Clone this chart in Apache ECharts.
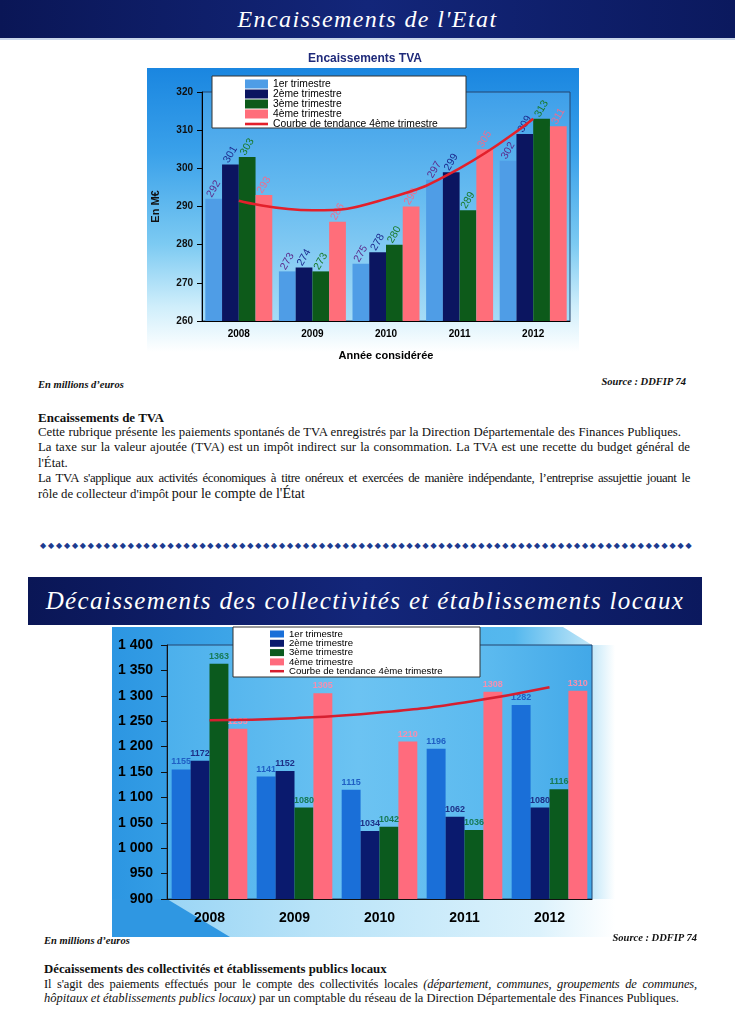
<!DOCTYPE html>
<html lang="fr">
<head>
<meta charset="utf-8">
<title>Encaissements / Décaissements</title>
<script src="https://cdn.jsdelivr.net/npm/echarts/dist/echarts.min.js"></script>
<style>
  html, body { margin:0; padding:0; }
  body { width:735px; height:1024px; position:relative; overflow:hidden; background:#fff; font-family:"Liberation Serif", serif; color:#111; }
  .abs { position:absolute; }
  .banner { background:linear-gradient(90deg,#0a1656 0%,#13267a 50%,#0b195e 100%); color:#fff; font-family:"Liberation Serif",serif; font-style:italic; text-align:center; }
  .note { font-style:italic; font-weight:bold; font-size:10.5px; line-height:12px; white-space:nowrap; }
  .para { left:38px; width:652px; font-size:12.8px; line-height:15.2px; }
  .para div { white-space:nowrap; }
  .just { text-align:justify; text-align-last:justify; white-space:normal !important; }
  .diamonds { display:flex; justify-content:space-between; color:#1d3b8f; font-family:"DejaVu Sans",sans-serif; font-size:8px; line-height:10px; }
</style>
</head>
<body>
<!-- Header 1 -->
<div class="abs banner" style="left:0;top:0;width:735px;height:38px;line-height:38px;font-size:24px;letter-spacing:1.4px;">Encaissements de l'Etat</div>
<div class="abs" style="left:0;top:38px;width:735px;height:2px;background:#c9d6ea;"></div>

<!-- Top chart backgrounds -->
<div class="abs" style="left:147px;top:68px;width:432px;height:284px;background:linear-gradient(180deg,#1a86e0 0%,#3aa1ea 30%,#7ccaf2 62%,#cfeefb 84%,#ffffff 100%);"></div>
<div class="abs" style="left:202px;top:92px;width:368px;height:229px;background:linear-gradient(180deg,#3e9fe9 0%,#66bbf0 45%,#a6dcf6 100%);"></div>
<div id="c1" class="abs" style="left:130px;top:48px;width:470px;height:320px;"></div>

<div class="abs note" style="left:38px;top:379px;">En millions d’euros</div>
<div class="abs note" style="right:49px;top:376px;">Source : DDFIP 74</div>

<div class="abs para" style="top:410px;">
  <div style="font-weight:bold;font-size:13px;">Encaissements de TVA</div>
  <div class="just" style="width:643px;">Cette rubrique présente les paiements spontanés de TVA enregistrés par la Direction Départementale des Finances Publiques.</div>
  <div class="just">La taxe sur la valeur ajoutée (TVA) est un impôt indirect sur la consommation. La TVA est une recette du budget général de</div>
  <div>l'État.</div>
  <div class="just" style="letter-spacing:-0.4px;">La TVA s'applique aux activités économiques à titre onéreux et exercées de manière indépendante, l’entreprise assujettie jouant le</div>
  <div>rôle de collecteur d'impôt <span style="font-size:14px;">pour le compte de l'État</span></div>
</div>

<div id="dia" class="abs diamonds" style="left:40px;top:541px;width:652px;"></div>

<!-- Header 2 -->
<div class="abs banner" style="left:28px;top:577px;width:674px;height:48px;line-height:48px;font-size:25px;letter-spacing:1.35px;">Décaissements des collectivités et établissements locaux</div>

<!-- Bottom chart backgrounds -->
<div class="abs" style="left:112px;top:627px;width:503px;height:310px;clip-path:polygon(0 0,451px 0,480px 18px,503px 18px,503px 310px,0 310px);background:linear-gradient(90deg,#2c96e2 0%,#45acea 35%,#55b8ee 80%,#bfe6f8 95%,#ffffff 100%);"></div>
<div class="abs" style="left:112px;top:899px;width:503px;height:38px;background:linear-gradient(90deg,#8fd0f4 0%,#b8e3f8 40%,#dcf2fc 85%,#ffffff 100%);"></div>
<div class="abs" style="left:112px;top:899px;width:130px;height:38px;clip-path:polygon(0 0,55px 0,118px 38px,0 38px);background:#2f97e2;"></div>
<div class="abs" style="left:167px;top:645px;width:425px;height:254px;background:linear-gradient(90deg,#4cb0ec 0%,#6cc3f2 45%,#5cbaef 75%,#42a8e8 100%);"></div>
<div id="c2" class="abs" style="left:100px;top:625px;width:520px;height:310px;"></div>

<div class="abs note" style="left:44px;top:935px;">En millions d’euros</div>
<div class="abs note" style="right:38px;top:932px;">Source : DDFIP 74</div>

<div class="abs para" style="left:44px;width:653px;top:962px;line-height:14.5px;font-size:12.5px;">
  <div style="font-weight:bold;font-size:12.8px;">Décaissements des collectivités et établissements publics locaux</div>
  <div class="just" style="letter-spacing:-0.15px;">Il s'agit des paiements effectués pour le compte des collectivités locales <i>(département, communes, groupements de communes,</i></div>
  <div><i>hôpitaux et établissements publics locaux)</i> par un comptable du réseau de la Direction Départementale des Finances Publiques.</div>
</div>

<script>
// ---------- DATA ----------
const years = ['2008', '2009', '2010', '2011', '2012'];
const seriesNames = ['1er trimestre', '2ème trimestre', '3ème trimestre', '4ème trimestre', 'Courbe de tendance 4ème trimestre'];

// Encaissements TVA (M€)
const tvaQ1 = [292, 273, 275, 297, 302];
const tvaQ2 = [301, 274, 278, 299, 309];
const tvaQ3 = [303, 273, 280, 289, 313];
const tvaQ4 = [293, 286, 290, 305, 311];
const tvaTrend = [291.5, 289, 292, 300, 313];

// Décaissements des collectivités (M€)
const decQ1 = [1155, 1141, 1115, 1196, 1282];
const decQ2 = [1172, 1152, 1034, 1062, 1080];
const decQ3 = [1363, 1080, 1042, 1036, 1116];
const decQ4 = [1235, 1305, 1210, 1308, 1310];
const decTrend = [1252, 1256, 1267, 1287, 1317];

// ---------- diamonds separator ----------
(function(){
  const d = document.getElementById('dia');
  let s = '';
  for (let i = 0; i < 82; i++) s += '<span>◆</span>';
  d.innerHTML = s;
})();

const SANS = 'Liberation Sans';

function legendData(lineIcon) {
  return seriesNames.map((n, i) => ({ name:n, icon: i < 4 ? 'rect' : lineIcon }));
}

// ---------- Chart 1 ----------
const topBar = ['#4f9de6', '#0b1560', '#0d5a1a', '#ff6e7a'];
const topLbl = ['#5b2d8e', '#1c2b8f', '#1a7a2a', '#ee6d8f'];
function rotLabel(color) {
  return { show:true, position:'top', distance:10, rotate:60, align:'center', verticalAlign:'middle',
           color:color, fontSize:10.5, fontFamily:SANS };
}
const c1 = echarts.init(document.getElementById('c1'));
const tvaData = [tvaQ1, tvaQ2, tvaQ3, tvaQ4];
c1.setOption({
  animation:false,
  backgroundColor:'transparent',
  title:{ text:'Encaissements TVA', left:'center', top:0,
          textStyle:{ fontFamily:SANS, fontSize:12, fontWeight:'bold', color:'#1f2a7a' } },
  graphic:[{ type:'rect', z:5, shape:{ x:82, y:28, width:254, height:52 },
             style:{ fill:'#ffffff', stroke:'#333', lineWidth:1 } }],
  legend:{ orient:'vertical', left:115, top:31, padding:0, z:10, itemWidth:23, itemHeight:9, itemGap:0,
           textStyle:{ fontFamily:SANS, fontSize:10.3, color:'#000', lineHeight:9.5 },
           data:legendData('path://M0,0H23V2.6H0Z') },
  grid:{ left:72, top:44, width:368, height:229, show:true, borderColor:'#24456e', borderWidth:1, backgroundColor:'transparent' },
  xAxis:{ type:'category', data:years,
          axisLine:{ lineStyle:{ color:'#000', width:1 } },
          axisTick:{ length:4, lineStyle:{ color:'#000' } },
          axisLabel:{ fontFamily:SANS, fontWeight:'bold', fontSize:10, color:'#000', margin:8 },
          name:'Année considérée', nameLocation:'middle', nameGap:29,
          nameTextStyle:{ fontFamily:SANS, fontWeight:'bold', fontSize:11, color:'#000' } },
  yAxis:{ type:'value', min:260, max:320, interval:10,
          axisLine:{ show:true, lineStyle:{ color:'#000', width:1 } },
          axisTick:{ show:true, length:5, lineStyle:{ color:'#000' } },
          splitLine:{ show:false },
          axisLabel:{ fontFamily:SANS, fontWeight:'bold', fontSize:10, color:'#111', margin:9 },
          name:'En M€', nameLocation:'middle', nameGap:41,
          nameTextStyle:{ fontFamily:SANS, fontWeight:'bold', fontSize:11, color:'#111' } },
  series: tvaData.map((d,i)=>({
    name:seriesNames[i], type:'bar', data:d, barGap:'0%', barCategoryGap:'9%',
    itemStyle:{ color:topBar[i] }, label:rotLabel(topLbl[i]), z:2
  })).concat([{
    name:seriesNames[4], type:'line', data:tvaTrend, smooth:0.5, symbol:'none', z:4,
    itemStyle:{ color:'#e3202b' }, lineStyle:{ color:'#e3202b', width:2.5 }
  }])
});

// ---------- Chart 2 ----------
const botBar = ['#1a6fd8', '#0a1a6e', '#0b5a1e', '#ff6b7d'];
const botLbl = ['#1f5fc4', '#1d2f86', '#177a55', '#f58fb0'];
function fmtSpace(v) {
  if (v >= 1000) return Math.floor(v/1000) + ' ' + String(v % 1000).padStart(3, '0');
  return String(v);
}
const c2 = echarts.init(document.getElementById('c2'));
const decData = [decQ1, decQ2, decQ3, decQ4];
c2.setOption({
  animation:false,
  backgroundColor:'transparent',
  graphic:[{ type:'rect', z:5, shape:{ x:133, y:2, width:247, height:50 },
             style:{ fill:'#ffffff', stroke:'#333', lineWidth:1 } }],
  legend:{ orient:'vertical', left:170, top:4, padding:0, z:10, itemWidth:14, itemHeight:7, itemGap:-0.7,
           textStyle:{ fontFamily:SANS, fontSize:9.6, color:'#000', lineHeight:9.3 },
           data:legendData('path://M0,0H14V2.5H0Z') },
  grid:{ left:67, top:20, width:425, height:254, show:true, borderColor:'#24456e', borderWidth:1, backgroundColor:'transparent' },
  xAxis:{ type:'category', data:years,
          axisLine:{ lineStyle:{ color:'#111', width:1 } },
          axisTick:{ length:4, lineStyle:{ color:'#111' } },
          axisLabel:{ fontFamily:SANS, fontWeight:'bold', fontSize:14, color:'#000', margin:12 } },
  yAxis:{ type:'value', min:900, max:1400, interval:50,
          axisLine:{ show:true, lineStyle:{ color:'#111', width:1 } },
          axisTick:{ show:true, length:6, lineStyle:{ color:'#111' } },
          splitLine:{ show:false },
          axisLabel:{ fontFamily:SANS, fontWeight:'bold', fontSize:14, color:'#000', margin:14, formatter:fmtSpace } },
  series: decData.map((d,i)=>({
    name:seriesNames[i], type:'bar', data:d, barGap:'0%', barCategoryGap:'11%',
    itemStyle:{ color:botBar[i] },
    label:{ show:true, position:'top', distance:3, color:botLbl[i], fontFamily:SANS, fontSize:9, fontWeight:'bold' },
    z:2
  })).concat([{
    name:seriesNames[4], type:'line', data:decTrend, smooth:0.5, symbol:'none', z:4,
    itemStyle:{ color:'#d61f30' }, lineStyle:{ color:'#d61f30', width:2.5 }
  }])
});
</script>
</body>
</html>
